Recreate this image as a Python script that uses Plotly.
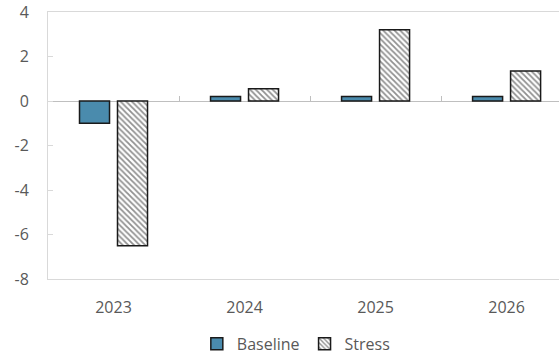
import plotly.graph_objects as go

years = ["2023", "2024", "2025", "2026"]
baseline = [-1.0, 0.2, 0.2, 0.2]
stress = [-6.5, 0.55, 3.2, 1.35]
y_ticks = [-8, -6, -4, -2, 0, 2, 4]
y_tick_labels = ["-8", "-6", "-4", "-2", "0", "2", "4"]

GRAY_TEXT = "#595959"
AXIS_GRAY = "#d9d9d9"
FONT = "Open Sans, Noto Sans, sans-serif"

fig = go.Figure()

fig.add_trace(
    go.Bar(
        x=years,
        y=baseline,
        name="Baseline",
        marker={"color": "#4a8bad", "line": {"color": "#1a1a1a", "width": 1.5}},
    )
)

fig.add_trace(
    go.Bar(
        x=years,
        y=stress,
        name="Stress",
        marker={
            "color": "white",
            "line": {"color": "#1a1a1a", "width": 1.5},
            "pattern": {
                "shape": "\\",
                "fgcolor": "#222222",
                "bgcolor": "white",
                "size": 4,
                "solidity": 0.45,
            },
        },
    )
)

# small category-boundary ticks on the zero line
fig.add_trace(
    go.Scatter(x=[], y=[], xaxis="x2", showlegend=False, hoverinfo="skip")
)

fig.update_layout(
    width=559,
    height=355,
    margin={"l": 48, "r": 0, "t": 12, "b": 76, "autoexpand": False},
    paper_bgcolor="white",
    plot_bgcolor="white",
    barmode="group",
    bargap=0.42,
    bargroupgap=0.21,
    font={"family": FONT, "size": 15, "color": GRAY_TEXT},
    showlegend=True,
    legend={
        "orientation": "h",
        "x": 0.485,
        "xanchor": "center",
        "y": -0.243,
        "yanchor": "middle",
        "font": {"size": 16, "color": GRAY_TEXT},
        "itemwidth": 30,
    },
    xaxis={
        "type": "category",
        "range": [-0.5, 3.4],
        "automargin": False,
        "showline": True,
        "linecolor": AXIS_GRAY,
        "linewidth": 1,
        "mirror": True,
        "showgrid": False,
        "ticks": "",
        "tickfont": {"size": 16, "color": GRAY_TEXT},
        "ticklabelstandoff": 14,
    },
    xaxis2={
        "overlaying": "x",
        "anchor": "free",
        "position": 8 / 12,
        "range": [-0.5, 3.4],
        "automargin": False,
        "tickvals": [0.5, 1.5, 2.5],
        "ticks": "inside",
        "ticklen": 5,
        "tickcolor": "#bfbfbf",
        "showticklabels": False,
        "showline": False,
        "showgrid": False,
        "zeroline": False,
    },
    yaxis={
        "range": [-8, 4],
        "tickvals": y_ticks,
        "ticktext": y_tick_labels,
        "automargin": False,
        "showline": True,
        "linecolor": AXIS_GRAY,
        "linewidth": 1,
        "showgrid": False,
        "zeroline": True,
        "zerolinecolor": "#bfbfbf",
        "zerolinewidth": 1,
        "ticks": "inside",
        "ticklen": 5,
        "tickcolor": AXIS_GRAY,
        "tickfont": {"size": 16, "color": GRAY_TEXT},
        "ticklabelstandoff": 15,
    },
)

# drop the default body margin so the figure sits at the window's corner
fig.write_html(
    "out.html",
    config={"displayModeBar": False},
    post_script="document.body.style.margin = '0';",
)
